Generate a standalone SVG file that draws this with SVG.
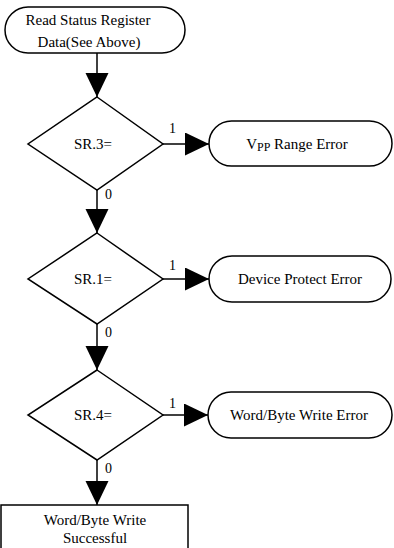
<svg xmlns="http://www.w3.org/2000/svg" width="394" height="548" viewBox="0 0 394 548">
<style>
.s{fill:#fff;stroke:#000;stroke-width:1.5}
.t{font-family:"Liberation Serif","Times New Roman",serif;font-size:15px;fill:#000;text-anchor:middle}
.l{font-family:"Liberation Serif","Times New Roman",serif;font-size:14px;fill:#000}
.c{fill:none;stroke:#000;stroke-width:1.5}
</style>
<defs>
<marker id="ah" markerUnits="userSpaceOnUse" markerWidth="24" markerHeight="24" refX="24" refY="11.5" orient="auto">
<path d="M0,0 L24,11.5 L0,23 Z" fill="#000"/>
</marker>
</defs>
<rect width="394" height="548" fill="#fff"/>
<g id="connectors">
<line class="c" x1="97" y1="53" x2="97" y2="97" marker-end="url(#ah)"/>
<line class="c" x1="163" y1="144" x2="209" y2="144" marker-end="url(#ah)"/>
<line class="c" x1="97" y1="190" x2="97" y2="233" marker-end="url(#ah)"/>
<line class="c" x1="163" y1="279" x2="209" y2="279" marker-end="url(#ah)"/>
<line class="c" x1="97" y1="324" x2="97" y2="370" marker-end="url(#ah)"/>
<line class="c" x1="163" y1="415" x2="208" y2="415" marker-end="url(#ah)"/>
<line class="c" x1="97" y1="460" x2="97" y2="505" marker-end="url(#ah)"/>
<text class="l" x="169" y="133">1</text>
<text class="l" x="105" y="199">0</text>
<text class="l" x="169" y="270">1</text>
<text class="l" x="105" y="337">0</text>
<text class="l" x="169" y="408">1</text>
<text class="l" x="105" y="473">0</text>
</g>
<g id="start">
<rect class="s" x="5" y="7" width="180" height="46" rx="23" ry="23"/>
<text class="t" x="88" y="25">Read Status Register</text>
<text class="t" x="89" y="47">Data(See Above)</text>
</g>
<g id="sr3">
<polygon class="s" points="97,97 163,144 97,190 28,144"/>
<text class="t" x="93" y="149">SR.3=</text>
</g>
<g id="vpp-error">
<rect class="s" x="209" y="121" width="183" height="45" rx="22.5" ry="22.5"/>
<text class="t" x="297" y="149">V<tspan font-size="12" dy="2">PP</tspan><tspan dy="-2"> Range Error</tspan></text>
</g>
<g id="sr1">
<polygon class="s" points="97,233 163,279 97,324 28,279"/>
<text class="t" x="93" y="284">SR.1=</text>
</g>
<g id="protect-error">
<rect class="s" x="209" y="256" width="182" height="46" rx="23" ry="23"/>
<text class="t" x="300" y="284">Device Protect Error</text>
</g>
<g id="sr4">
<polygon class="s" points="97,370 163,415 97,460 28,415"/>
<text class="t" x="93" y="420">SR.4=</text>
</g>
<g id="write-error">
<rect class="s" x="208" y="392" width="184" height="46" rx="23" ry="23"/>
<text class="t" x="299" y="420">Word/Byte Write Error</text>
</g>
<g id="success">
<rect class="s" x="1" y="505" width="187" height="60"/>
<text class="t" x="95" y="525">Word/Byte Write</text>
<text class="t" x="95" y="543">Successful</text>
</g>
</svg>
